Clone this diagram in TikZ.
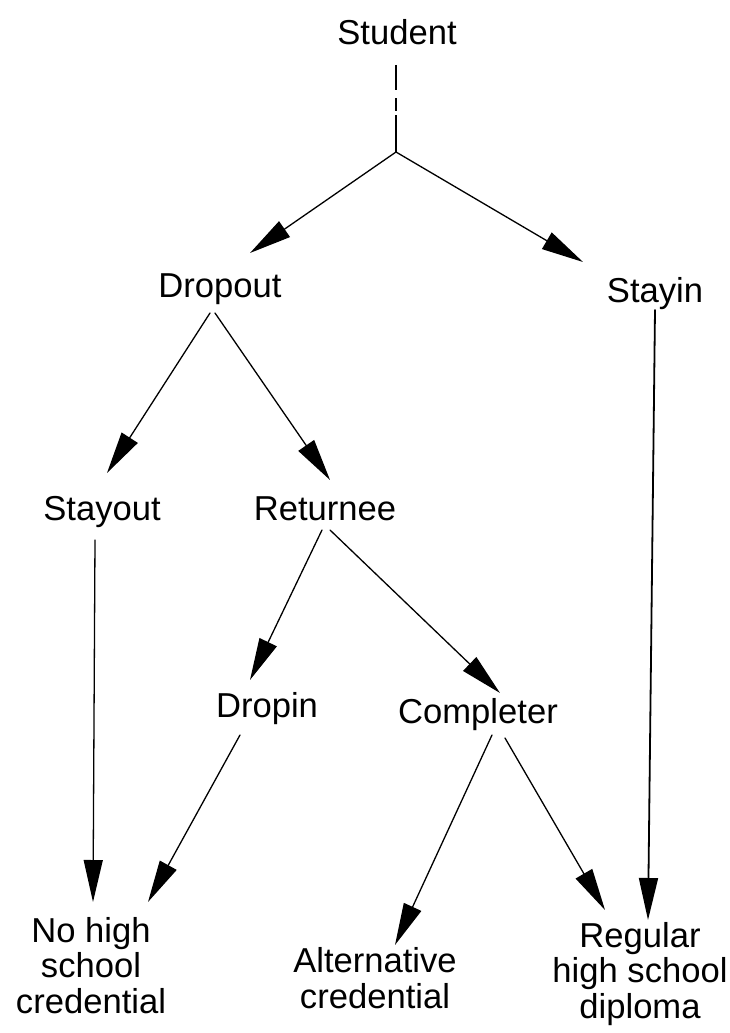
\documentclass[tikz,border=0pt]{standalone}
\usepackage{fontspec}
\setmainfont{Liberation Sans}
\usetikzlibrary{arrows.meta}
\begin{document}
\begin{tikzpicture}[x=1pt,y=-1pt,
  lbl/.style={font=\fontsize{34.6}{35.5}\selectfont, inner sep=0pt, anchor=base, align=center},
  link/.style={line width=1.3pt, line cap=round},
  arr/.style={link, -{Triangle[length=42pt,width=19pt]}},
]
\useasboundingbox (0,0) rectangle (729,1033);
% labels (placed by baseline of last line)
\node[lbl] (student)   at (397,45)  {Student};
\node[lbl] (dropout)   at (220,297) {Dropout};
\node[lbl] (stayin)    at (655,302) {Stayin};
\node[lbl] (stayout)   at (102,520) {Stayout};
\node[lbl] (returnee)  at (325,520) {Returnee};
\node[lbl] (dropin)    at (267,717) {Dropin};
\node[lbl] (completer) at (478,723) {Completer};
\node[lbl] (nohs)      at (91,1013) {No high\\school\\credential};
\node[lbl] (alt)       at (375,1008) {Alternative\\credential};
\node[lbl] (regular)   at (640,1018) {Regular\\high school\\diploma};
% connector end points
\coordinate (student-out) at (396,65);
\coordinate (j) at (396,152);
\coordinate (dropout-in) at (250,253);
\coordinate (stayin-in) at (583,262);
\coordinate (dropout-outL) at (210,313);
\coordinate (dropout-outR) at (215,313);
\coordinate (stayout-in) at (107,473);
\coordinate (returnee-in) at (330,480);
\coordinate (stayout-out) at (95,540);
\coordinate (nohs-inL) at (93,902);
\coordinate (returnee-outL) at (322,530);
\coordinate (returnee-outR) at (330,530);
\coordinate (dropin-in) at (250,680);
\coordinate (completer-in) at (500,693);
\coordinate (dropin-out) at (240,735);
\coordinate (nohs-inR) at (148,902);
\coordinate (completer-outL) at (492,735);
\coordinate (completer-outR) at (505,738);
\coordinate (alt-in) at (395,945);
\coordinate (regular-inL) at (605,910);
\coordinate (stayin-out) at (655,310);
\coordinate (regular-inR) at (648,920);
% connectors
\draw[link, line cap=butt, dash pattern=on 25pt off 8pt on 13pt off 4pt on 40pt] (student-out) -- (j);
\draw[arr] (j) -- (dropout-in);
\draw[arr] (j) -- (stayin-in);
\draw[arr] (dropout-outL) -- (stayout-in);
\draw[arr] (dropout-outR) -- (returnee-in);
\draw[arr] (stayout-out) -- (nohs-inL);
\draw[arr] (returnee-outL) -- (dropin-in);
\draw[arr] (returnee-outR) -- (completer-in);
\draw[arr] (dropin-out) -- (nohs-inR);
\draw[arr] (completer-outL) -- (alt-in);
\draw[arr] (completer-outR) -- (regular-inL);
\draw[arr, line width=1.8pt] (stayin-out) -- (regular-inR);
\end{tikzpicture}
\end{document}
